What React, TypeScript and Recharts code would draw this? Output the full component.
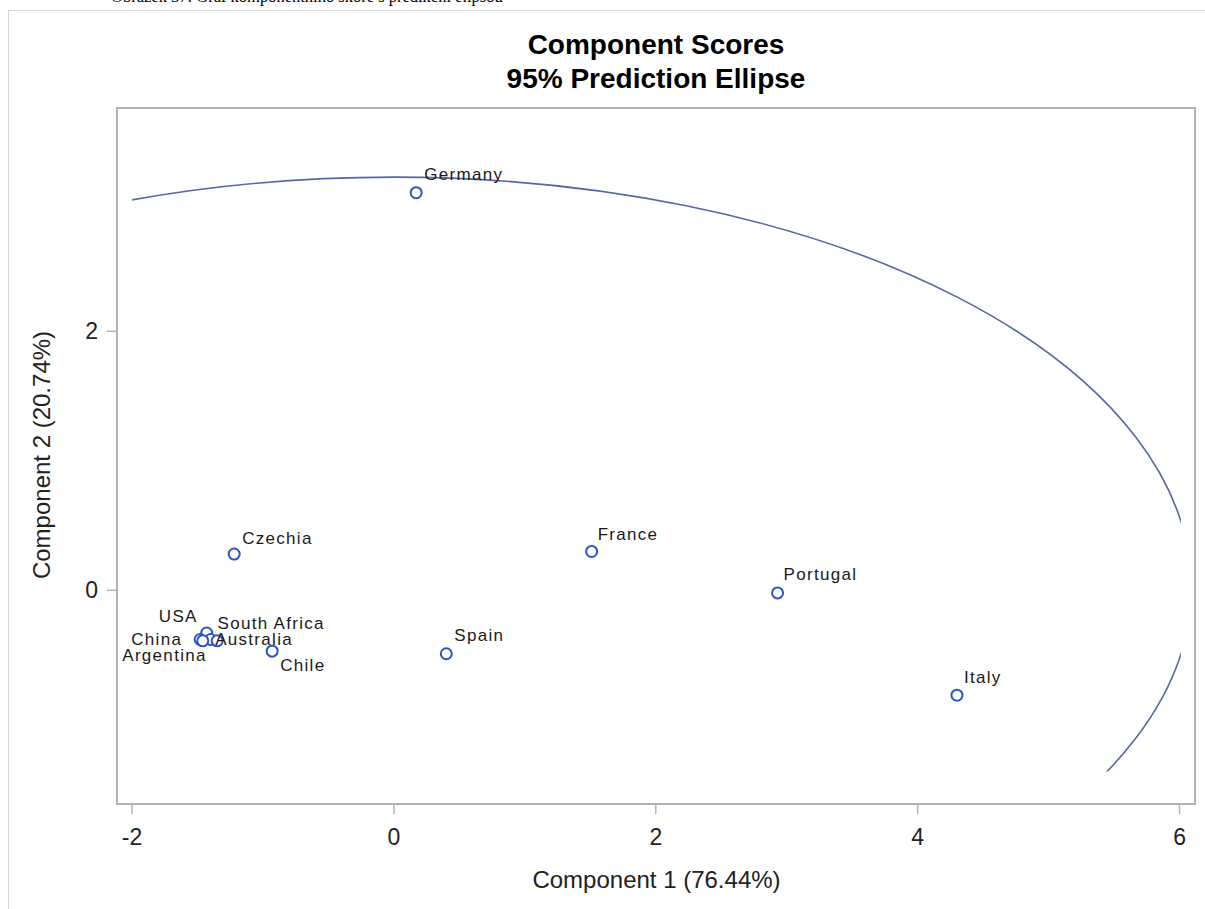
import { ReferenceArea, Scatter, ScatterChart, XAxis, YAxis } from "recharts";

// component scores
const countries = ["Germany", "Czechia", "France", "Portugal", "Spain", "Italy", "Chile", "USA", "South Africa", "China", "Australia", "Argentina"];
const comp1 = [0.17, -1.22, 1.51, 2.93, 0.40, 4.30, -0.93, -1.43, -1.40, -1.48, -1.35, -1.46];
const comp2 = [3.07, 0.28, 0.30, -0.02, -0.49, -0.81, -0.47, -0.33, -0.38, -0.38, -0.39, -0.39];

const xTicks = [-2, 0, 2, 4, 6];
const yTicks = [0, 2];

// 95% prediction ellipse (centre and semi-axes in score units)
const ellipseCenter = [0, 0.02];
const ellipseRadii = [6.09, 3.17];
// SAS clips the ellipse to this window
const ellipseClipX = [-2.0, 6.01];
const ellipseClipY = [-1.4, 3.72];

const X_DOMAIN: [number, number] = [-2.115, 6.118];
const Y_DOMAIN: [number, number] = [-1.65, 3.724];

const FONT = "'Liberation Sans', Arial, sans-serif";
const MARKER = "#2b55c4";
const ELLIPSE = "#5567a6";
const FRAME = "#b0b3b6";

// label offsets in px from the marker centre: [dx, dy, anchor]
const labelPos: Record<string, [number, number, "start" | "end"]> = {
    Germany: [8, -18, "start"],
    Czechia: [8, -16, "start"],
    France: [6, -17, "start"],
    Portugal: [6, -18, "start"],
    Spain: [8, -18, "start"],
    Italy: [7, -18, "start"],
    Chile: [8, 14, "start"],
    USA: [-9, -17, "end"],
    "South Africa": [7, -16, "start"],
    China: [-18, 0, "end"],
    Australia: [-2, -1, "start"],
    Argentina: [4, 15, "end"],
};

const data = countries.map((name, i) => ({ name, x: comp1[i], y: comp2[i] }));

function CountryMarker(props: any) {
    const { cx, cy, payload } = props;
    const [dx, dy, anchor] = labelPos[payload.name] || [8, -17, "start"];
    return (
        <g>
            <circle cx={cx} cy={cy} r={5.5} fill="#fff" stroke={MARKER} strokeWidth={2} />
            <text
                x={cx + dx}
                y={cy + dy}
                textAnchor={anchor}
                dominantBaseline="central"
                fontFamily={FONT}
                fontSize={17}
                letterSpacing={1.3}
                fill="#1a1a1a"
            >
                {payload.name}
            </text>
        </g>
    );
}

export default function App() {
    return (
        <div style={{ position: "absolute", left: 0, top: 0, width: 1205, height: 909, overflow: "hidden", background: "#fff" }}>
            <div
                style={{
                    position: "absolute",
                    left: 111,
                    top: -12,
                    fontFamily: "'Liberation Serif', 'Times New Roman', serif",
                    fontSize: 16.5,
                    lineHeight: "17px",
                    whiteSpace: "nowrap",
                    color: "#000",
                }}
            >
                Obrázek 37: Graf komponentního skóre s predikční elipsou
            </div>
            <div style={{ position: "absolute", left: 8, top: 10, width: 1300, height: 1000, border: "1px solid #d6d6d6" }} />

            <div
                style={{
                    position: "absolute",
                    left: 0,
                    width: 1312,
                    top: 28,
                    textAlign: "center",
                    fontFamily: FONT,
                    fontWeight: "bold",
                    fontSize: 28,
                    lineHeight: "34px",
                    color: "#000",
                }}
            >
                <div>Component Scores</div>
                <div>95% Prediction Ellipse</div>
            </div>

            <ScatterChart
                width={1205}
                height={909}
                margin={{ top: 108, right: 10, bottom: 45, left: 57 }}
                style={{ position: "absolute", left: 0, top: 0 }}
            >
                <XAxis
                    type="number"
                    dataKey="x"
                    domain={X_DOMAIN}
                    ticks={xTicks}
                    allowDataOverflow
                    height={60}
                    tickSize={10}
                    tickMargin={15}
                    axisLine={false}
                    tickLine={{ stroke: FRAME, strokeWidth: 1.5 }}
                    tick={{ fontSize: 23, fontFamily: FONT, fill: "#222" }}
                />
                <YAxis
                    type="number"
                    dataKey="y"
                    domain={Y_DOMAIN}
                    ticks={yTicks}
                    allowDataOverflow
                    width={60}
                    tickSize={10}
                    tickMargin={9}
                    axisLine={false}
                    tickLine={{ stroke: FRAME, strokeWidth: 1.5 }}
                    tick={{ fontSize: 23, fontFamily: FONT, fill: "#222" }}
                />
                {/* clip window for the ellipse */}
                <ReferenceArea
                    x1={ellipseClipX[0]}
                    x2={ellipseClipX[1]}
                    y1={ellipseClipY[0]}
                    y2={ellipseClipY[1]}
                    ifOverflow="visible"
                    shape={(p: any) => (
                        <defs>
                            <clipPath id="ellipseClip">
                                <rect x={p.x} y={p.y} width={p.width} height={p.height} />
                            </clipPath>
                        </defs>
                    )}
                />
                <ReferenceArea
                    x1={ellipseCenter[0] - ellipseRadii[0]}
                    x2={ellipseCenter[0] + ellipseRadii[0]}
                    y1={ellipseCenter[1] - ellipseRadii[1]}
                    y2={ellipseCenter[1] + ellipseRadii[1]}
                    ifOverflow="visible"
                    shape={(p: any) => (
                        <ellipse
                            cx={p.x + p.width / 2}
                            cy={p.y + p.height / 2}
                            rx={Math.abs(p.width) / 2}
                            ry={Math.abs(p.height) / 2}
                            fill="none"
                            stroke={ELLIPSE}
                            strokeWidth={1.6}
                            clipPath="url(#ellipseClip)"
                        />
                    )}
                />
                {/* plot frame */}
                <ReferenceArea
                    x1={X_DOMAIN[0]}
                    x2={X_DOMAIN[1]}
                    y1={Y_DOMAIN[0]}
                    y2={Y_DOMAIN[1]}
                    ifOverflow="visible"
                    fill="none"
                    fillOpacity={0}
                    stroke={FRAME}
                    strokeWidth={2}
                    strokeOpacity={1}
                />
                <Scatter data={data} shape={CountryMarker} isAnimationActive={false} />
            </ScatterChart>

            <div
                style={{
                    position: "absolute",
                    left: 117,
                    width: 1079,
                    top: 866,
                    textAlign: "center",
                    fontFamily: FONT,
                    fontSize: 24,
                    lineHeight: "28px",
                    color: "#222",
                }}
            >
                Component 1 (76.44%)
            </div>
            <div
                style={{
                    position: "absolute",
                    left: 42 - 150,
                    top: 455 - 14,
                    width: 300,
                    height: 28,
                    transform: "rotate(-90deg)",
                    textAlign: "center",
                    fontFamily: FONT,
                    fontSize: 24,
                    lineHeight: "28px",
                    color: "#222",
                    whiteSpace: "nowrap",
                }}
            >
                Component 2 (20.74%)
            </div>
        </div>
    );
}
